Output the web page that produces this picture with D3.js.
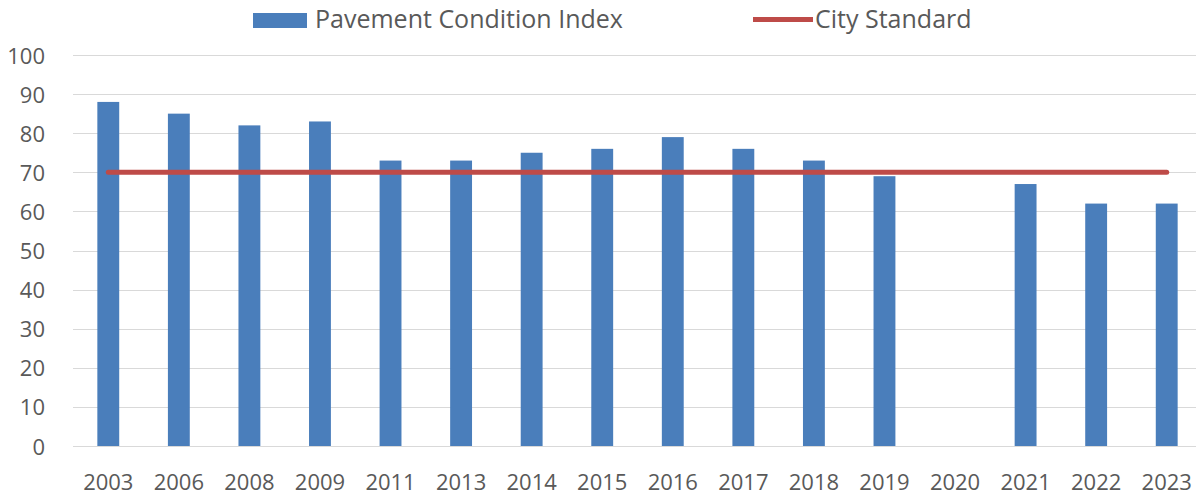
<!DOCTYPE html>
<html>
<head>
<meta charset="utf-8">
<script src="https://cdn.jsdelivr.net/npm/d3@7"></script>
<style>
  html, body { margin: 0; padding: 0; background: #fff; }
  svg { display: block; }
  text { font-family: "Open Sans", "Noto Sans", sans-serif; fill: #595959; }
</style>
</head>
<body>
<svg id="chart" width="1196" height="497"></svg>
<script>
// Pavement Condition Index by survey year, against the city standard
const years = ["2003","2006","2008","2009","2011","2013","2014","2015","2016","2017","2018","2019","2020","2021","2022","2023"];
const pci = [88, 85, 82, 83, 73, 73, 75, 76, 79, 76, 73, 69, null, 67, 62, 62];
const cityStandard = [70, 70, 70, 70, 70, 70, 70, 70, 70, 70, 70, 70, 70, 70, 70, 70];
const yTicks = [0, 10, 20, 30, 40, 50, 60, 70, 80, 90, 100];
const seriesNames = ["Pavement Condition Index", "City Standard"];

const svg = d3.select("#chart");
const plot = { left: 73, right: 1202, top: 55, bottom: 446 };
const barColor = "#4a7ebb";
const lineColor = "#be4b48";

const x = d3.scaleBand().domain(years).range([plot.left, plot.right]).paddingInner(0.69).paddingOuter(0.345);
const y = d3.scaleLinear().domain([0, 100]).range([plot.bottom, plot.top]);

// horizontal gridlines
svg.append("g").selectAll("line").data(yTicks).join("line")
  .attr("x1", plot.left).attr("x2", plot.right)
  .attr("y1", d => Math.round(y(d)) + 0.5).attr("y2", d => Math.round(y(d)) + 0.5)
  .attr("stroke", "#d9d9d9").attr("stroke-width", 1.2);

// y-axis labels
const yAxis = d3.axisLeft(y).tickValues(yTicks).tickSize(0).tickPadding(0);
const gy = svg.append("g").attr("transform", "translate(45,1)").call(yAxis);
gy.select(".domain").remove();
gy.selectAll("text").attr("font-size", 22).attr("fill", "#595959")
  .style("font-family", '"Open Sans", "Noto Sans", sans-serif');

// x-axis labels
const xAxis = d3.axisBottom(x).tickSize(0).tickPadding(0);
const gx = svg.append("g").attr("transform", "translate(0,482)").call(xAxis);
gx.select(".domain").remove();
gx.selectAll("text").attr("font-size", 22).attr("fill", "#595959").attr("dy", "0.35em")
  .style("font-family", '"Open Sans", "Noto Sans", sans-serif');

// bars
svg.append("g").selectAll("rect")
  .data(years.map((yr, i) => ({ yr, v: pci[i] })).filter(d => d.v != null))
  .join("rect")
  .attr("x", d => x(d.yr)).attr("width", x.bandwidth())
  .attr("y", d => y(d.v)).attr("height", d => y(0) - y(d.v))
  .attr("fill", barColor);

// city standard line
const line = d3.line().x((d, i) => x(years[i]) + x.bandwidth() / 2).y(d => y(d));
svg.append("path").datum(cityStandard)
  .attr("d", line).attr("fill", "none")
  .attr("stroke", lineColor).attr("stroke-width", 5).attr("stroke-linecap", "round");

// legend
const lg = svg.append("g");
lg.append("rect").attr("x", 253).attr("y", 13).attr("width", 54).attr("height", 15).attr("fill", barColor);
lg.append("text").attr("x", 315).attr("y", 19).attr("dy", "0.35em").attr("font-size", 25).text(seriesNames[0]);
lg.append("line").attr("x1", 753).attr("x2", 813).attr("y1", 19.5).attr("y2", 19.5)
  .attr("stroke", lineColor).attr("stroke-width", 5);
lg.append("text").attr("x", 815).attr("y", 19).attr("dy", "0.35em").attr("font-size", 25).text(seriesNames[1]);
</script>
</body>
</html>
